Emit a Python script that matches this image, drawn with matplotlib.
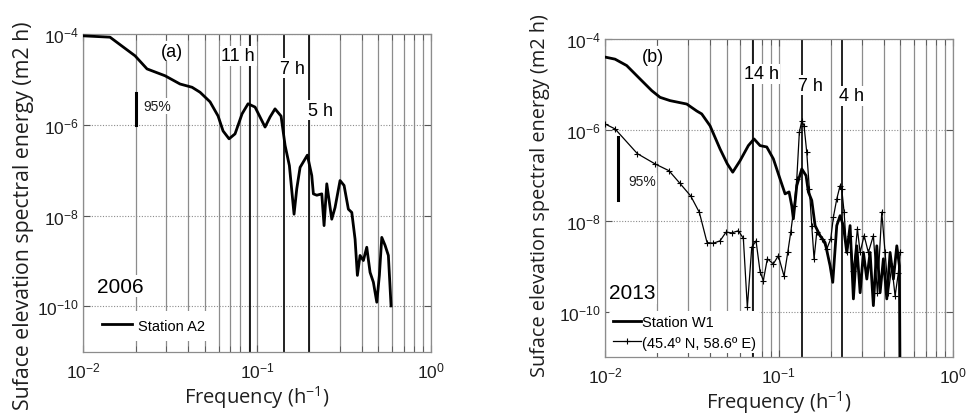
import matplotlib
matplotlib.use("Agg")
import matplotlib.pyplot as plt
from matplotlib.ticker import FixedLocator, NullFormatter, NullLocator, LogFormatterMathtext

plt.rcParams['font.family'] = ['Liberation Sans', 'DejaVu Sans']
plt.rcParams['mathtext.fontset'] = 'custom'
plt.rcParams['mathtext.rm'] = 'Liberation Sans'
plt.rcParams['mathtext.it'] = 'Liberation Sans:italic'
plt.rcParams['mathtext.default'] = 'regular'

# ---- panel (a): 2006, station A2 ----
freq_a2 = [0.0100, 0.01424, 0.01985, 0.02326, 0.02954, 0.03604, 0.04225, 0.04697,
           0.05362, 0.05965, 0.06373, 0.06901, 0.07470, 0.08198, 0.08876, 0.09739,
           0.1112, 0.1188, 0.1269, 0.1375, 0.1450, 0.1535, 0.1633, 0.1693, 0.1769,
           0.1948, 0.2065, 0.2110, 0.2207, 0.2358, 0.2431, 0.2520, 0.2692, 0.2812,
           0.3005, 0.3169, 0.3355, 0.3510, 0.3667, 0.3781, 0.3917, 0.4093, 0.4281,
           0.4473, 0.4673, 0.4889, 0.5060, 0.5224, 0.5458, 0.5701, 0.5908]
energy_a2 = [9.1e-5, 8.5e-5, 3.3e-5, 1.7e-5, 1.2e-5, 7.9e-6, 6.7e-6, 5.2e-6,
             3.2e-6, 1.56e-6, 7.3e-7, 4.9e-7, 6.3e-7, 1.74e-6, 2.9e-6, 2.45e-6,
             8.9e-7, 1.48e-6, 2.24e-6, 1.55e-6, 3.5e-7, 1.26e-7, 1.07e-8, 3.9e-8, 1.15e-7,
             2.14e-7, 7.6e-8, 3.0e-8, 2.8e-8, 3.0e-8, 6.0e-9, 5.0e-8, 8.3e-9, 1.5e-8,
             5.9e-8, 4.6e-8, 1.38e-8, 1.17e-8, 3.0e-9, 4.8e-10, 1.32e-9, 1.02e-9, 2.0e-9,
             5.6e-10, 3.4e-10, 1.23e-10, 4.8e-10, 3.3e-9, 2.2e-9, 1.32e-9, 1.02e-10]
periods_a = [11, 7, 5]
period_labels_a = ["11 h", "7 h", "5 h"]
conf_a_freq = 0.02
conf_a_range = [1.0e-6, 5.0e-6]

# ---- panel (b): 2013, station W1 and grid point ----
freq_w1 = [0.01000, 0.01142, 0.01333, 0.01590, 0.01857, 0.02073, 0.02366, 0.02952,
           0.03371, 0.03601, 0.04019, 0.04589, 0.05053, 0.05429, 0.05981, 0.06677,
           0.07200, 0.07796, 0.08519, 0.09298, 0.1016, 0.1086, 0.1145, 0.1187, 0.1212,
           0.1268, 0.1355, 0.1434, 0.1478, 0.1546, 0.1616, 0.1726, 0.1845, 0.1971,
           0.2042, 0.2153, 0.2250, 0.2350, 0.2459, 0.2569, 0.2684, 0.2807, 0.2934,
           0.3065, 0.3206, 0.3347, 0.3497, 0.3659, 0.3822, 0.3993, 0.4177, 0.4364,
           0.4560, 0.4769, 0.4936, 0.4982]
energy_w1 = [4.0e-5, 3.6e-5, 2.6e-5, 1.32e-5, 7.3e-6, 5.2e-6, 4.4e-6, 3.7e-6,
             2.6e-6, 2.24e-6, 1.23e-6, 3.8e-7, 1.78e-7, 1.17e-7, 2.09e-7, 4.5e-7,
             6.3e-7, 4.5e-7, 4.2e-7, 2.3e-7, 8.3e-8, 3.9e-8, 4.3e-8, 2.1e-8, 1.1e-8,
             5.9e-8, 1.38e-7, 9.8e-8, 4.3e-8, 2.8e-8, 7.8e-9, 4.7e-9, 3.3e-9, 1.02e-9,
             4.4e-10, 7.8e-9, 1.29e-8, 7.8e-9, 2.0e-9, 7.8e-9, 1.9e-10, 2.8e-9, 2.6e-10,
             2.0e-9, 5.2e-10, 2.0e-9, 1.35e-10, 2.8e-9, 2.6e-10, 1.45e-9, 1.9e-10, 2.0e-9,
             5.2e-10, 2.8e-9, 1.02e-9, 1.0e-12]

freq_grid = [0.0100, 0.01142, 0.01534, 0.01940, 0.02334, 0.02701, 0.03112, 0.03488,
             0.03864, 0.04199, 0.04589, 0.04968, 0.05358, 0.05848, 0.06248, 0.06588,
             0.06984, 0.07391, 0.07796, 0.08142, 0.08585, 0.09298, 0.09933, 0.1071,
             0.1125, 0.1171, 0.1224, 0.1268, 0.1312, 0.1355, 0.1396, 0.1447, 0.1498,
             0.1546, 0.1594, 0.1652, 0.1766, 0.1887, 0.1989, 0.2059, 0.2153, 0.2250,
             0.2301, 0.2372, 0.2459, 0.2569, 0.2684, 0.2830, 0.2934, 0.3093, 0.3273,
             0.3497, 0.3687, 0.3908, 0.4083, 0.4266, 0.4462, 0.4662, 0.4871, 0.4982]
energy_grid = [1.35e-6, 1.05e-6, 3.0e-7, 1.78e-7, 1.26e-7, 6.6e-8, 3.5e-8, 1.53e-8,
               3.3e-9, 3.2e-9, 3.6e-9, 5.6e-9, 5.4e-9, 6.0e-9, 4.1e-9, 1.23e-10,
               2.6e-9, 3.6e-9, 7.6e-10, 4.8e-10, 1.45e-9, 1.12e-9, 1.7e-9, 6.0e-10,
               2.0e-9, 5.6e-9, 2.1e-8, 8.3e-8, 8.9e-7, 1.58e-6, 1.23e-6, 3.2e-7, 5.0e-8,
               7.8e-9, 1.45e-9, 5.6e-9, 4.0e-9, 2.4e-9, 4.0e-9, 1.2e-8, 3.0e-8, 5.9e-8,
               5.0e-8, 1.55e-8, 2.0e-9, 4.7e-9, 7.9e-10, 6.6e-9, 2.0e-9, 4.7e-9, 2.0e-9,
               4.7e-9, 2.6e-10, 1.55e-8, 2.0e-9, 2.6e-10, 1.02e-9, 2.2e-10, 7.2e-10, 2.0e-9]
periods_b = [14.1, 7.4, 4.35]
period_labels_b = ["14 h", "7 h", "4 h"]
conf_b_freq = 0.01183
conf_b_range = [2.8e-8, 6.9e-7]

x_limits = (1e-2, 1e0)
y_limits = (1e-11, 1e-4)
y_ticks = [1e-10, 1e-8, 1e-6, 1e-4]
y_label = "Suface elevation spectral energy (m2 h)"
x_label = "Frequency (h$^{-1}$)"

GRID = "#8c8c8c"
TEXT = "#1e1e1e"
WHITE_BOX = dict(facecolor="white", edgecolor="none", pad=1.0)

fig = plt.figure(figsize=(9.68, 4.14), dpi=100)
ax_a = fig.add_axes([0.0861, 0.1481, 0.3589, 0.7674])
ax_b = fig.add_axes([0.6250, 0.1353, 0.3592, 0.7681])


def style_axes(ax, ylabel_size, ylabel_xy):
    ax.set_xscale("log")
    ax.set_yscale("log")
    ax.set_xlim(*x_limits)
    ax.set_ylim(*y_limits)
    ax.yaxis.set_major_locator(FixedLocator(y_ticks))
    ax.yaxis.set_minor_locator(NullLocator())
    ax.xaxis.set_major_formatter(LogFormatterMathtext())
    ax.yaxis.set_major_formatter(LogFormatterMathtext())
    ax.xaxis.set_minor_formatter(NullFormatter())
    ax.grid(axis="x", which="both", color=GRID, linestyle="-", linewidth=0.9, zorder=0)
    ax.grid(axis="y", which="major", color=GRID, linestyle=(0, (1, 1.5)), linewidth=0.8, zorder=0)
    ax.set_axisbelow(True)
    for s in ax.spines.values():
        s.set_color(GRID)
        s.set_linewidth(0.9)
    ax.tick_params(which="both", direction="in", top=True, right=True, color="#555555",
                   labelsize=12.5, labelcolor=TEXT)
    ax.tick_params(axis="y", pad=3)
    ax.tick_params(axis="x", pad=6)
    ax.tick_params(which="major", length=5)
    ax.tick_params(which="minor", length=4)
    ax.set_ylabel(y_label, family="Open Sans", fontsize=ylabel_size, color=TEXT)
    ax.yaxis.set_label_coords(*ylabel_xy)
    ax.set_xlabel(x_label, family="Open Sans", fontsize=14.5, color=TEXT, labelpad=2)


style_axes(ax_a, 15.3, (-0.142, 0.43))
style_axes(ax_b, 14.3, (-0.158, 0.51))

# ---- panel (a) ----
for p in periods_a:
    ax_a.axvline(1.0 / p, color="#111111", linewidth=1.3, zorder=1)
ax_a.plot(freq_a2, energy_a2, color="black", linewidth=2.0, zorder=5, label="Station A2")
ax_a.plot([conf_a_freq, conf_a_freq], conf_a_range, color="black", linewidth=2.2, zorder=5)
ax_a.text(0.0221, 2.6e-6, "95%", fontsize=10, color=TEXT, va="center", ha="left",
          bbox=WHITE_BOX, zorder=3)
ax_a.text(0.0324, 4.2e-5, "(a)", fontsize=13, ha="center", va="center", bbox=WHITE_BOX, zorder=3)
label_x_a = [0.0780, 0.1600, 0.2305]
label_y_a = [3.3e-5, 1.75e-5, 2.07e-6]
for lx, ly, txt in zip(label_x_a, label_y_a, period_labels_a):
    ax_a.text(lx, ly, txt, fontsize=13, ha="center", va="center", bbox=WHITE_BOX, zorder=3)
ax_a.text(0.0163, 2.8e-10, "2006", fontsize=15, ha="center", va="center", bbox=WHITE_BOX, zorder=3)
leg_a = ax_a.legend(loc="lower left", bbox_to_anchor=(0.03, 0.035), frameon=True, fontsize=10.5,
                    handlelength=2.1, handletextpad=0.35, borderpad=0.55, borderaxespad=0.0)
leg_a.get_frame().set_facecolor("white")
leg_a.get_frame().set_edgecolor("none")
leg_a.get_frame().set_alpha(1.0)
leg_a.set_zorder(6)

# ---- panel (b) ----
for p in periods_b:
    ax_b.axvline(1.0 / p, color="#111111", linewidth=1.3, zorder=1)
ax_b.plot(freq_w1, energy_w1, color="black", linewidth=2.0, zorder=5, label="Station W1")
ax_b.plot(freq_grid, energy_grid, color="black", linewidth=0.9, marker="+", markersize=5,
          markeredgewidth=0.8, zorder=5, label="(45.4º N, 58.6º E)")
ax_b.plot([conf_b_freq, conf_b_freq], conf_b_range, color="black", linewidth=2.2, zorder=5)
ax_b.text(0.01356, 7.5e-8, "95%", fontsize=10, color=TEXT, va="center", ha="left",
          bbox=WHITE_BOX, zorder=3)
ax_b.text(0.0189, 4.2e-5, "(b)", fontsize=13, ha="center", va="center", bbox=WHITE_BOX, zorder=3)
label_x_b = [0.0790, 0.1512, 0.2603]
label_y_b = [1.7e-5, 9.7e-6, 5.6e-6]
for lx, ly, txt in zip(label_x_b, label_y_b, period_labels_b):
    ax_b.text(lx, ly, txt, fontsize=13, ha="center", va="center", bbox=WHITE_BOX, zorder=3)
ax_b.text(0.0144, 2.6e-10, "2013", fontsize=15, ha="center", va="center", bbox=WHITE_BOX, zorder=3)
leg_b = ax_b.legend(loc="lower left", bbox_to_anchor=(0.012, 0.012), frameon=True, fontsize=10.5,
                    handlelength=1.9, handletextpad=0.1, borderpad=0.25, borderaxespad=0.0,
                    labelspacing=0.45)
leg_b.get_frame().set_facecolor("white")
leg_b.get_frame().set_edgecolor("none")
leg_b.get_frame().set_alpha(1.0)
leg_b.set_zorder(6)

fig.savefig("out.png", dpi=100)
